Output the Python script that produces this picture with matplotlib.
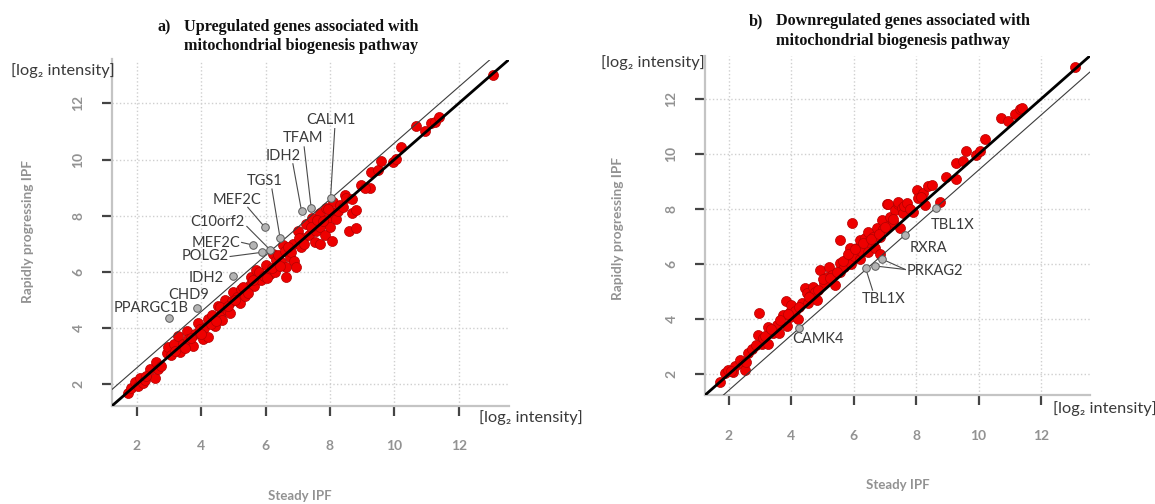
import matplotlib
matplotlib.use("Agg")
import matplotlib.pyplot as plt

plt.rcParams['font.family'] = ['Lato', 'DejaVu Sans']

W, H = 1155, 504

# panel a: upregulated genes (steady IPF, rapidly progressing IPF), log2 intensity
up_x = [1.73, 1.83, 1.94, 2.05, 2.10, 2.20, 2.25, 2.56, 2.40, 2.61, 2.66, 2.95, 2.97, 3.08, 3.15,
        3.28, 3.33, 3.44, 3.55, 3.60, 3.75, 3.80, 3.90, 3.96, 4.06, 4.10, 4.22, 4.22, 4.35, 4.42,
        4.53, 4.58, 4.65, 4.73, 4.79, 4.90, 4.95, 5.00, 5.10, 5.20, 5.25, 5.35, 5.51, 5.56, 5.65,
        5.72, 5.80, 5.87, 6.02, 6.13, 6.23, 6.30, 6.34, 6.40, 6.49, 6.55, 6.60, 6.65, 6.65, 6.75,
        6.80, 6.86, 6.90, 6.96, 7.00, 7.10, 7.17, 7.27, 7.35, 7.43, 7.53, 7.58, 7.70, 7.68, 7.70,
        7.85, 7.89, 7.90, 8.00, 8.05, 8.10, 8.10, 8.20, 8.25, 8.30, 8.46, 8.51, 8.60, 8.67, 8.80,
        8.82, 8.98, 9.24, 9.29, 9.50, 9.60, 9.96, 10.06, 10.22, 10.68, 10.94, 11.15, 11.25, 11.39,
        13.06,
        2.30, 2.75, 3.20, 3.50, 3.70, 4.00, 4.30, 4.45, 4.60, 4.85, 5.05, 5.30, 5.45, 5.60, 5.95,
        6.05, 6.20, 6.45, 6.70, 7.05, 7.20, 7.40, 7.60, 7.80, 7.95, 8.40, 8.70, 9.10]
up_y = [1.69, 1.86, 2.10, 1.95, 2.21, 2.05, 2.15, 2.21, 2.56, 2.79, 2.56, 3.10, 3.32, 3.03, 3.45,
        3.73, 3.15, 3.44, 3.90, 3.61, 3.38, 3.78, 4.20, 3.96, 3.61, 4.00, 4.31, 3.67, 4.45, 4.08,
        4.78, 4.43, 4.30, 5.01, 4.66, 4.55, 4.95, 5.30, 5.12, 4.90, 5.41, 5.15, 5.53, 5.82, 5.50,
        6.06, 6.00, 5.71, 6.23, 5.94, 6.64, 6.00, 6.41, 6.60, 6.35, 6.95, 6.76, 6.18, 5.83, 6.52,
        6.70, 6.99, 6.40, 6.18, 7.45, 6.90, 7.22, 7.69, 7.30, 7.92, 7.05, 7.45, 7.60, 8.10, 7.00,
        7.30, 8.27, 7.90, 7.60, 7.10, 8.50, 8.10, 7.90, 8.16, 8.39, 8.74, 8.62, 7.45, 8.10, 7.55,
        8.22, 9.08, 8.97, 9.55, 9.61, 9.96, 9.90, 10.02, 10.43, 11.18, 11.00, 11.30, 11.35, 11.52,
        13.00,
        2.30, 2.65, 3.20, 3.30, 3.65, 3.80, 4.15, 4.25, 4.75, 4.80, 5.00, 5.45, 5.25, 5.70, 5.85,
        5.80, 6.15, 6.20, 6.90, 7.20, 7.00, 7.60, 7.85, 7.80, 8.25, 8.30, 8.60, 9.00]

up_genes = ['PPARGC1B', 'CHD9', 'IDH2', 'POLG2', 'MEF2C', 'C10orf2', 'MEF2C', 'TGS1', 'IDH2',
            'TFAM', 'CALM1']
up_gx = [3.01, 3.86, 4.98, 5.90, 5.60, 6.14, 5.98, 6.45, 7.12, 7.42, 8.02]
up_gy = [4.35, 4.73, 5.85, 6.70, 6.96, 6.79, 7.59, 7.22, 8.16, 8.26, 8.63]
# label anchor (x, y, alignment) and where the leader line starts (None = no line)
up_tx = [3.60, 3.61, 4.69, 4.85, 5.21, 5.36, 5.12, 5.97, 6.56, 7.15, 8.04]
up_ty = [4.72, 5.18, 5.79, 6.55, 7.02, 7.76, 8.55, 9.22, 10.14, 10.75, 11.40]
up_ha = ['right', 'center', 'right', 'right', 'right', 'right', 'center', 'center', 'center',
         'center', 'center']
up_lx = [None, None, None, 4.90, 5.26, 5.42, 5.45, 6.20, 6.85, 7.20, 8.15]
up_ly = [None, None, None, 6.55, 7.05, 7.62, 8.30, 8.95, 9.85, 10.45, 11.10]

# panel b: downregulated genes
down_x = [1.71, 1.87, 1.98, 2.14, 2.20, 2.35, 2.45, 2.51, 2.62, 2.75, 2.94, 2.97, 3.05, 3.10,
          3.26, 3.26, 3.42, 3.53, 3.60, 3.74, 3.82, 3.85, 3.95, 3.95, 4.00, 4.10, 4.20, 4.35,
          4.44, 4.49, 4.54, 4.60, 4.70, 4.76, 4.81, 4.92, 5.03, 5.13, 5.20, 5.30, 5.40, 5.56,
          5.56, 5.56, 5.70, 5.77, 5.88, 5.90, 5.93, 6.00, 6.10, 6.20, 6.20, 6.25, 6.35, 6.47,
          6.47, 6.47, 6.60, 6.69, 6.75, 6.84, 6.84, 6.90, 6.95, 7.05, 7.10, 7.11, 7.16, 7.27,
          7.32, 7.43, 7.43, 7.48, 7.54, 7.59, 7.60, 7.70, 7.91, 8.01, 8.06, 8.22, 8.27, 8.38,
          8.49, 8.75, 8.96, 9.26, 9.26, 9.50, 9.60, 9.90, 10.03, 10.19, 10.73, 10.95, 11.16,
          11.32, 11.40, 13.09,
          2.05, 2.55, 2.85, 3.15, 3.35, 3.65, 3.90, 4.25, 4.55, 4.85, 5.00, 5.25, 5.45, 5.65,
          5.80, 6.05, 6.30, 6.55, 6.80, 7.00, 7.25, 7.80, 8.15]
down_y = [1.72, 2.02, 2.15, 2.08, 2.30, 2.51, 2.35, 2.15, 2.75, 2.90, 3.42, 4.23, 3.10, 3.30,
          3.10, 3.72, 3.48, 3.78, 3.50, 4.15, 4.67, 3.75, 4.08, 4.27, 4.50, 4.30, 4.00, 4.60,
          5.12, 4.93, 4.57, 4.85, 5.18, 5.00, 4.69, 5.78, 5.30, 5.54, 5.90, 5.60, 5.24, 5.72,
          6.03, 6.87, 5.90, 6.17, 6.60, 6.00, 7.50, 6.30, 6.60, 6.87, 6.17, 6.45, 6.95, 7.17,
          6.80, 6.45, 7.00, 6.60, 7.30, 6.97, 6.36, 7.60, 7.27, 8.20, 7.40, 8.18, 7.71, 7.54,
          7.96, 8.20, 8.27, 7.30, 8.02, 7.84, 8.10, 8.21, 7.90, 8.70, 8.39, 8.57, 8.15, 8.82,
          8.88, 8.27, 9.18, 9.10, 9.67, 9.73, 10.10, 9.98, 10.10, 10.56, 11.32, 11.20, 11.44,
          11.62, 11.68, 13.16,
          2.10, 2.45, 3.05, 3.40, 3.65, 3.95, 4.20, 4.45, 4.80, 5.05, 5.45, 5.50, 5.70, 6.10,
          6.35, 6.55, 6.75, 6.90, 7.10, 7.35, 7.65, 8.00, 8.45]

down_genes = ['TBL1X', 'RXRA', 'PRKAG2', 'PRKAG2', 'TBL1X', 'CAMK4']
down_gx = [8.62, 7.63, 6.90, 6.67, 6.38, 4.25]
down_gy = [8.04, 7.05, 6.18, 5.93, 5.84, 3.66]
down_tx = [8.45, 7.80, 7.69, None, 6.26, 4.04]
down_ty = [7.43, 6.60, 5.75, None, 4.74, 3.26]
down_ha = ['left', 'left', 'left', 'left', 'left', 'left']
down_lx = [None, None, 7.65, 7.65, 6.60, None]
down_ly = [None, None, 5.80, 5.80, 5.05, None]

ticks = [2, 4, 6, 8, 10, 12]
lims = (1.24, 13.56)
fc_offset = 0.585  # log2(1.5)

TXT = '#929292'
LAB = '#3a3a3a'


def panel(ax, xs, ys, gx, gy, genes, tx, ty, ha, lx, ly, offset):
    ax.set_xlim(lims)
    ax.set_ylim(lims)
    ax.set_xticks(ticks)
    ax.set_yticks(ticks)
    ax.grid(True, linestyle=':', color='#cfcfcf', linewidth=1.0)
    ax.set_axisbelow(True)
    for s in ['top', 'right']:
        ax.spines[s].set_visible(False)
    for s in ['left', 'bottom']:
        ax.spines[s].set_color('#c4c4c4')
        ax.spines[s].set_linewidth(1.6)
    ax.tick_params(axis='both', direction='out', length=7, width=1.6, color='#444444',
                   labelcolor=TXT, labelsize=10)
    ax.tick_params(axis='x', pad=18)
    ax.tick_params(axis='y', pad=13, labelrotation=90)
    for lab in ax.get_xticklabels() + ax.get_yticklabels():
        lab.set_fontweight('bold')
    for lab in ax.get_yticklabels():
        lab.set_va('center')

    ax.scatter(xs, ys, s=52, c='#ee0000', edgecolors='#b40000', linewidths=0.5, zorder=3)
    ax.plot(lims, lims, color='black', lw=2.0, zorder=4)
    ax.plot(lims, [lims[0] + offset, lims[1] + offset], color='#3c3c3c', lw=0.8, zorder=4)

    for i in range(len(genes)):
        if lx[i] is not None:
            ax.plot([lx[i], gx[i]], [ly[i], gy[i]], color='#4a4a4a', lw=0.8, zorder=5)
        if tx[i] is not None:
            ax.text(tx[i], ty[i], genes[i], ha=ha[i], va='center', fontsize=10.5, color=LAB,
                    zorder=6)
    ax.scatter(gx, gy, s=30, c='#b4b4b4', edgecolors='#5a5a5a', linewidths=0.7, zorder=6)


fig = plt.figure(figsize=(W / 100, H / 100), dpi=100)
ax1 = fig.add_axes([112.2 / W, 1 - 405.7 / H, 396.8 / W, 346.2 / H])
ax2 = fig.add_axes([705.3 / W, 1 - 394.9 / H, 384.4 / W, 338.8 / H])

panel(ax1, up_x, up_y, up_gx, up_gy, up_genes, up_tx, up_ty, up_ha, up_lx, up_ly, fc_offset)
panel(ax2, down_x, down_y, down_gx, down_gy, down_genes, down_tx, down_ty, down_ha, down_lx,
      down_ly, -fc_offset)


def ftext(px, py, s, **kw):
    fig.text(px / W, 1 - py / H, s, **kw)


unit = '[log\u2082 intensity]'
ftext(115, 71, unit, ha='right', va='center', fontsize=11.8, color=LAB)
ftext(479, 418, unit, ha='left', va='center', fontsize=11.8, color=LAB)
ftext(705, 63, unit, ha='right', va='center', fontsize=11.8, color=LAB)
ftext(1053, 409, unit, ha='left', va='center', fontsize=11.8, color=LAB)

ftext(300, 496, 'Steady IPF', ha='center', va='center', fontsize=9.5, color=TXT,
      fontweight='bold')
ftext(898, 485, 'Steady IPF', ha='center', va='center', fontsize=9.5, color=TXT,
      fontweight='bold')
ftext(28, 232, 'Rapidly progressing IPF', ha='center', va='center', rotation=90, fontsize=9.8,
      color=TXT, fontweight='bold')
ftext(618, 228, 'Rapidly progressing IPF', ha='center', va='center', rotation=90, fontsize=9.8,
      color=TXT, fontweight='bold')

title_kw = dict(ha='left', va='center', fontsize=11.6, fontweight='bold',
                family='Liberation Serif', color='#111111')
ftext(158, 27, 'a)', **title_kw)
ftext(184, 27, 'Upregulated genes associated with', **title_kw)
ftext(184, 46, 'mitochondrial biogenesis pathway', **title_kw)
ftext(749, 21, 'b)', **title_kw)
ftext(776, 21, 'Downregulated genes associated with', **title_kw)
ftext(776, 41, 'mitochondrial biogenesis pathway', **title_kw)

fig.savefig('out.png', dpi=100)
